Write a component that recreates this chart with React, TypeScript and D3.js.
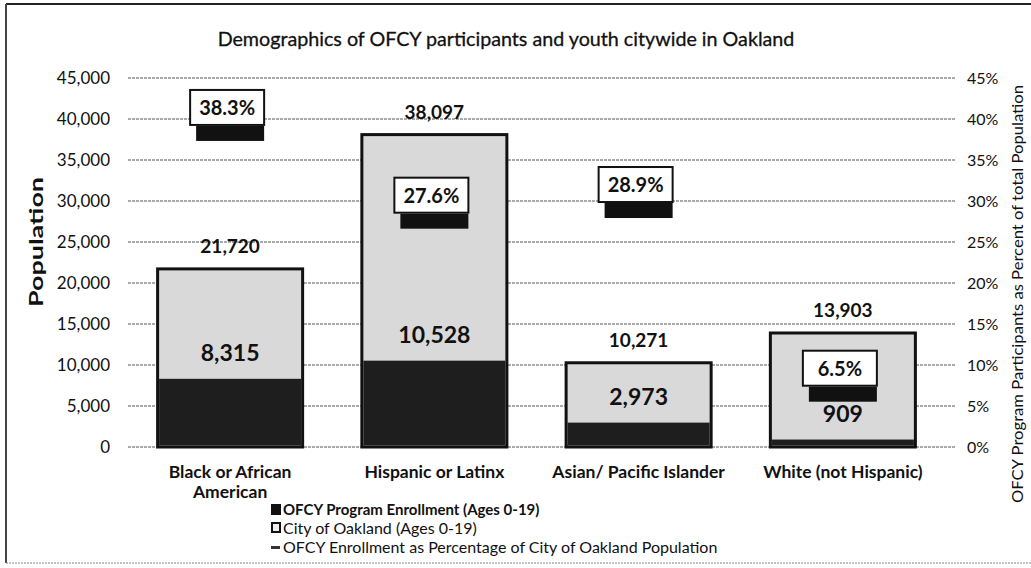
import { useEffect, useRef } from "react";
import * as d3 from "d3";

const categories = [
  ["Black or African", "American"],
  ["Hispanic or Latinx"],
  ["Asian/ Pacific Islander"],
  ["White (not Hispanic)"],
];
const cityPopulation = [21720, 38097, 10271, 13903];
const ofcyEnrollment = [8315, 10528, 2973, 909];
const enrollmentPct = [0.383, 0.276, 0.289, 0.065];
const leftTicks = [0, 5000, 10000, 15000, 20000, 25000, 30000, 35000, 40000, 45000];
const rightTicks = [0, 0.05, 0.1, 0.15, 0.2, 0.25, 0.3, 0.35, 0.4, 0.45];

const FONT = "Lato, 'Open Sans', sans-serif";

export default function App() {
  const svgRef = useRef<SVGSVGElement>(null);

  useEffect(() => {
    if (!svgRef.current) return;
    const svg = d3.select(svgRef.current);
    svg.selectAll("*").remove();

    const keys = categories.map((c) => c.join(" "));
    const x = d3.scaleBand().domain(keys).range([128, 945]).paddingInner(0.29).paddingOuter(0.145);
    const y = d3.scaleLinear().domain([0, 45000]).range([447, 78]);
    const y2 = d3.scaleLinear().domain([0, 0.45]).range([447, 78]);
    const fmt = d3.format(",");
    const cx = (i: number) => x(keys[i])! + x.bandwidth() / 2;

    // frame
    svg.append("line").attr("x1", 6).attr("x2", 1031).attr("y1", 4).attr("y2", 4)
      .attr("stroke", "#222").attr("stroke-width", 2);
    svg.append("line").attr("x1", 6).attr("x2", 6).attr("y1", 4).attr("y2", 563)
      .attr("stroke", "#444").attr("stroke-width", 2);
    svg.append("line").attr("x1", 6).attr("x2", 1031).attr("y1", 563).attr("y2", 563)
      .attr("stroke", "#888").attr("stroke-width", 1).attr("stroke-dasharray", "2,1");

    svg.append("text").attr("x", 506).attr("y", 46).attr("text-anchor", "middle")
      .attr("font-family", FONT).attr("font-size", 19.7).attr("fill", "#111")
      .attr("stroke", "#111").attr("stroke-width", 0.3)
      .text("Demographics of OFCY participants and youth citywide in Oakland");

    // gridlines
    svg.append("g").selectAll("line").data(leftTicks).join("line")
      .attr("x1", 128).attr("x2", 955)
      .attr("y1", (d) => y(d)).attr("y2", (d) => y(d))
      .attr("stroke", "#555").attr("stroke-width", 1).attr("stroke-dasharray", "3,1");

    // left axis
    const gl = svg.append("g").attr("transform", "translate(118,0)")
      .call(d3.axisLeft(y).tickValues(leftTicks).tickFormat((d) => fmt(d as number)).tickSize(0).tickPadding(8));
    gl.select(".domain").remove();
    gl.selectAll("text").attr("font-family", FONT).attr("font-size", 17).attr("fill", "#111");

    // right axis
    const gr = svg.append("g").attr("transform", "translate(960,0)")
      .call(d3.axisRight(y2).tickValues(rightTicks).tickFormat(d3.format(".0%")).tickSize(0).tickPadding(7));
    gr.select(".domain").remove();
    gr.selectAll("text").attr("font-family", FONT).attr("font-size", 16).attr("fill", "#111");

    svg.append("text").attr("transform", "translate(43,242) rotate(-90)")
      .attr("text-anchor", "middle").attr("font-family", FONT).attr("font-size", 19)
      .attr("textLength", 130).attr("lengthAdjust", "spacingAndGlyphs")
      .attr("font-weight", "bold").attr("fill", "#111").text("Population");

    svg.append("text").attr("transform", "translate(1023,294) rotate(-90)")
      .attr("text-anchor", "middle").attr("font-family", FONT).attr("font-size", 15)
      .attr("textLength", 418).attr("lengthAdjust", "spacingAndGlyphs")
      .attr("fill", "#111").text("OFCY Program Participants as Percent of total Population");

    const bars = svg.append("g");
    // city population (outer bar)
    bars.selectAll("rect.city").data(cityPopulation).join("rect").attr("class", "city")
      .attr("x", (_, i) => x(keys[i])!).attr("width", x.bandwidth())
      .attr("y", (d) => y(d)).attr("height", (d) => y(0) - y(d))
      .attr("fill", "#d9d9d9").attr("stroke", "#111").attr("stroke-width", 3);
    // enrollment (inner dark bar)
    bars.selectAll("rect.ofcy").data(ofcyEnrollment).join("rect").attr("class", "ofcy")
      .attr("x", (_, i) => x(keys[i])! + 1.5).attr("width", x.bandwidth() - 3)
      .attr("y", (d) => y(d)).attr("height", (d) => y(0) - y(d) - 1.5)
      .attr("fill", "#1e1e1e");

    // totals
    bars.selectAll("text.total").data(cityPopulation).join("text").attr("class", "total")
      .attr("x", (_, i) => cx(i)).attr("y", (d) => y(d) - 16)
      .attr("text-anchor", "middle").attr("font-family", FONT).attr("font-weight", "bold")
      .attr("font-size", 19).attr("fill", "#111").text((d) => fmt(d));

    bars.selectAll("text.enr").data(ofcyEnrollment).join("text").attr("class", "enr")
      .attr("x", (_, i) => cx(i)).attr("y", (d) => y(d) - 18)
      .attr("text-anchor", "middle").attr("font-family", FONT).attr("font-weight", "bold")
      .attr("font-size", 23).attr("fill", "#111").text((d) => fmt(d));

    // percentage markers
    const pg = svg.append("g");
    pg.selectAll("rect.mark").data(enrollmentPct).join("rect").attr("class", "mark")
      .attr("x", (_, i) => cx(i) - 34).attr("width", 68)
      .attr("y", (d) => y2(d) - 7).attr("height", 15).attr("fill", "#111");
    pg.selectAll("rect.box").data(enrollmentPct).join("rect").attr("class", "box")
      .attr("x", (_, i) => cx(i) - 40).attr("width", 74)
      .attr("y", (d) => y2(d) - 43).attr("height", 35)
      .attr("fill", "#fff").attr("stroke", "#111").attr("stroke-width", 2);
    pg.selectAll("text.pct").data(enrollmentPct).join("text").attr("class", "pct")
      .attr("x", (_, i) => cx(i) - 3).attr("y", (d) => y2(d) - 18)
      .attr("text-anchor", "middle").attr("font-family", FONT).attr("font-weight", "bold")
      .attr("font-size", 20).attr("fill", "#111").text((d) => d3.format(".1%")(d));

    // category labels
    const cl = svg.append("g");
    categories.forEach((lines, i) => {
      const t = cl.append("text").attr("x", cx(i)).attr("y", 478)
        .attr("text-anchor", "middle").attr("font-family", FONT).attr("font-weight", "bold")
        .attr("font-size", 17.5).attr("fill", "#111");
      lines.forEach((ln, j) => t.append("tspan").attr("x", cx(i))
        .attr("dy", j === 0 ? 0 : 20).text(ln));
    });

    // legend
    const lg = svg.append("g").attr("transform", "translate(271,510)");
    lg.append("rect").attr("x", 0).attr("y", -6).attr("width", 10).attr("height", 11).attr("fill", "#111");
    lg.append("text").attr("x", 12).attr("y", 5).attr("font-family", FONT).attr("font-size", 15)
      .attr("font-weight", "bold").attr("fill", "#111").text("OFCY Program Enrollment (Ages 0-19)");
    lg.append("rect").attr("x", 1).attr("y", 13).attr("width", 8).attr("height", 9)
      .attr("fill", "#eee").attr("stroke", "#111").attr("stroke-width", 2);
    lg.append("text").attr("x", 12).attr("y", 24).attr("font-family", FONT).attr("font-size", 16)
      .attr("fill", "#111").text("City of Oakland (Ages 0-19)");
    lg.append("rect").attr("x", 0).attr("y", 36).attr("width", 9).attr("height", 3).attr("fill", "#333");
    lg.append("text").attr("x", 12).attr("y", 43).attr("font-family", FONT).attr("font-size", 16)
      .attr("fill", "#111").text("OFCY Enrollment as Percentage of City of Oakland Population");
  }, []);

  return (
    <svg ref={svgRef} width={1031} height={568}
      style={{ position: "absolute", left: 0, top: 0, background: "#fff" }} />
  );
}
